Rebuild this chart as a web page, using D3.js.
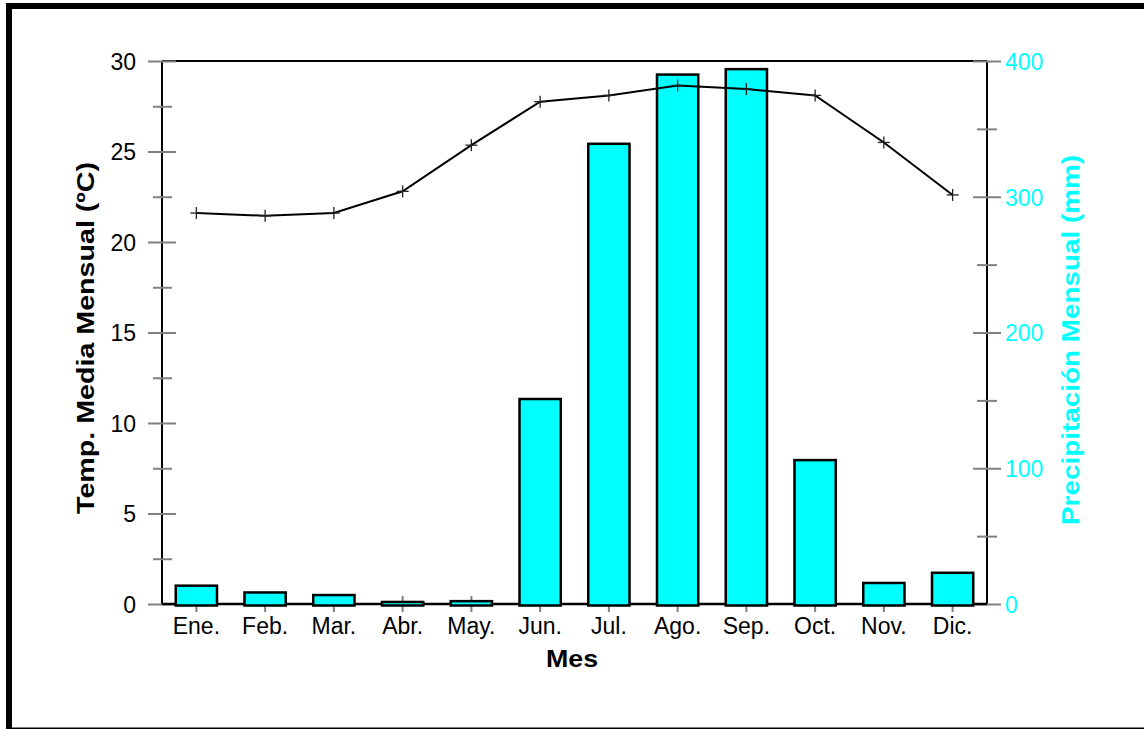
<!DOCTYPE html>
<html>
<head>
<meta charset="utf-8">
<script src="https://cdn.jsdelivr.net/npm/d3@7"></script>
<style>
  html, body { margin: 0; padding: 0; background: #fff; }
  svg { display: block; font-family: "Liberation Sans", Arial, sans-serif; }
</style>
</head>
<body>
<svg id="chart" width="1144" height="729"></svg>
<script>
// Monthly climate data
const months = ["Ene.", "Feb.", "Mar.", "Abr.", "May.", "Jun.", "Jul.", "Ago.", "Sep.", "Oct.", "Nov.", "Dic."];
const temperature = [21.6, 21.45, 21.6, 22.8, 25.35, 27.75, 28.1, 28.65, 28.45, 28.1, 25.5, 22.6];
const precipitation = [13.5, 8.5, 6.6, 1.5, 2.1, 151, 339, 390, 394, 106, 15.5, 23];
const tempTicks = [0, 5, 10, 15, 20, 25, 30];
const tempMinorTicks = [2.5, 7.5, 12.5, 17.5, 22.5, 27.5];
const precTicks = [0, 100, 200, 300, 400];
const precMinorTicks = [50, 150, 250, 350];

const svg = d3.select("#chart");
const W = 1144, H = 729;
const plot = { left: 162, right: 987, top: 61, bottom: 604 };
const CYAN = "#00ffff";
const TICK = "#808080";
const LABEL_SIZE = 23;

// outer frame
svg.append("rect").attr("x", 0).attr("y", 0).attr("width", W).attr("height", H).attr("fill", "#fff");
svg.append("rect").attr("x", 6).attr("y", 3).attr("width", W - 6).attr("height", 6).attr("fill", "#000");
svg.append("rect").attr("x", 6).attr("y", 3).attr("width", 6).attr("height", H - 3).attr("fill", "#000");
svg.append("rect").attr("x", 12).attr("y", 727.5).attr("width", W - 12).attr("height", 1.5).attr("fill", "#000");

const x = d3.scaleBand().domain(months).range([plot.left, plot.right]).paddingInner(0.4).paddingOuter(0.2);
const yT = d3.scaleLinear().domain([0, 30]).range([plot.bottom, plot.top]);
const yP = d3.scaleLinear().domain([0, 400]).range([plot.bottom, plot.top]);

// frame lines of the plot area
const frame = svg.append("g").attr("stroke", "#000").attr("stroke-width", 2);
frame.append("line").attr("x1", plot.left).attr("x2", plot.right).attr("y1", plot.top).attr("y2", plot.top);
frame.append("line").attr("x1", plot.left).attr("x2", plot.left).attr("y1", plot.top).attr("y2", plot.bottom);
frame.append("line").attr("x1", plot.right).attr("x2", plot.right).attr("y1", plot.top).attr("y2", plot.bottom);

function styleAxis(g, color) {
  g.select(".domain").remove();
  g.selectAll(".tick line").attr("stroke", TICK).attr("stroke-width", 2);
  g.selectAll(".tick text").attr("fill", color).attr("font-size", LABEL_SIZE);
}

// left temperature axis, ticks crossing the spine
const leftMajor = svg.append("g").attr("transform", `translate(${plot.left},0)`)
  .call(d3.axisLeft(yT).tickValues(tempTicks).tickSize(14).tickPadding(12).tickFormat(d3.format("d")));
styleAxis(leftMajor, "#000");
leftMajor.selectAll(".tick line").attr("x1", 14).attr("x2", -14);
leftMajor.selectAll(".tick text").attr("dy", "0.36em");
const leftMinor = svg.append("g").attr("transform", `translate(${plot.left},0)`)
  .call(d3.axisLeft(yT).tickValues(tempMinorTicks).tickSize(9).tickFormat(""));
styleAxis(leftMinor, "#000");
leftMinor.selectAll(".tick line").attr("x1", 10).attr("x2", -9);

// right precipitation axis
const rightMajor = svg.append("g").attr("transform", `translate(${plot.right},0)`)
  .call(d3.axisRight(yP).tickValues(precTicks).tickSize(14).tickPadding(4).tickFormat(d3.format("d")));
styleAxis(rightMajor, CYAN);
rightMajor.selectAll(".tick line").attr("x1", -14).attr("x2", 14);
rightMajor.selectAll(".tick text").attr("dy", "0.36em");
const rightMinor = svg.append("g").attr("transform", `translate(${plot.right},0)`)
  .call(d3.axisRight(yP).tickValues(precMinorTicks).tickSize(10).tickFormat(""));
styleAxis(rightMinor, CYAN);
rightMinor.selectAll(".tick line").attr("x1", -10).attr("x2", 10);

// month axis
const bottom = svg.append("g").attr("transform", `translate(0,${plot.bottom})`)
  .call(d3.axisBottom(x).tickSize(8).tickPadding(4));
styleAxis(bottom, "#000");
bottom.selectAll(".tick line").attr("y1", -8).attr("y2", 8);
bottom.selectAll(".tick text").attr("dy", "0.71em").attr("y", 14);

// baseline
svg.append("line").attr("x1", plot.left).attr("x2", plot.right)
  .attr("y1", plot.bottom).attr("y2", plot.bottom).attr("stroke", "#000").attr("stroke-width", 2.5);

// precipitation bars (outlined boxes sit slightly below the baseline)
const sink = 1.5;
svg.append("g").selectAll("rect").data(months).join("rect")
  .attr("x", d => x(d))
  .attr("width", x.bandwidth())
  .attr("y", (d, i) => yP(precipitation[i]))
  .attr("height", (d, i) => yP(0) - yP(precipitation[i]) + sink)
  .attr("fill", CYAN)
  .attr("stroke", "#000")
  .attr("stroke-width", 2.5);

// temperature line
const cx = d => x(d) + x.bandwidth() / 2;
svg.append("path")
  .datum(months)
  .attr("fill", "none")
  .attr("stroke", "#000")
  .attr("stroke-width", 2)
  .attr("d", d3.line().x(cx).y((d, i) => yT(temperature[i])));

// cross markers
const m = 6;
const markers = svg.append("g").attr("stroke", "#222").attr("stroke-width", 1.3);
months.forEach((d, i) => {
  const px = cx(d), py = yT(temperature[i]);
  markers.append("line").attr("x1", px - m).attr("x2", px + m).attr("y1", py).attr("y2", py);
  markers.append("line").attr("x1", px).attr("x2", px).attr("y1", py - m).attr("y2", py + m);
});

// axis titles (wide bold face)
svg.append("text")
  .attr("transform", `translate(94,338) rotate(-90)`)
  .attr("text-anchor", "middle").attr("font-weight", "bold").attr("font-size", 24)
  .attr("textLength", 352).attr("lengthAdjust", "spacingAndGlyphs")
  .attr("fill", "#000").text("Temp. Media Mensual (ºC)");
svg.append("text")
  .attr("transform", `translate(1079,340) rotate(-90)`)
  .attr("text-anchor", "middle").attr("font-weight", "bold").attr("font-size", 24)
  .attr("textLength", 370).attr("lengthAdjust", "spacingAndGlyphs")
  .attr("fill", CYAN).text("Precipitación Mensual (mm)");
svg.append("text")
  .attr("x", 572).attr("y", 667)
  .attr("text-anchor", "middle").attr("font-weight", "bold").attr("font-size", 24)
  .attr("textLength", 52).attr("lengthAdjust", "spacingAndGlyphs")
  .attr("fill", "#000").text("Mes");
</script>
</body>
</html>
